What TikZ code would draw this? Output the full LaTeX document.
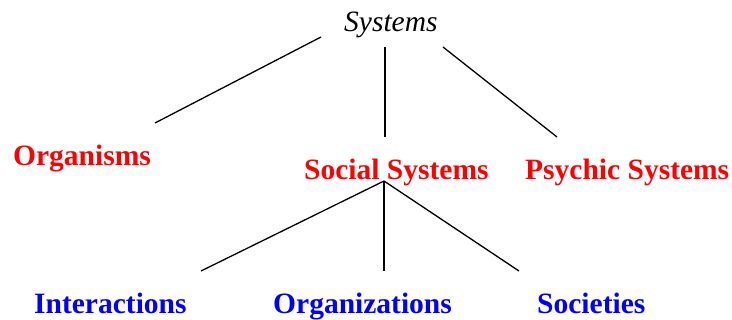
\documentclass[tikz,border=0pt]{standalone}
\usepackage{fontspec}
\setmainfont{Liberation Serif}[BoldFont={Liberation Serif Bold},ItalicFont={Liberation Serif Italic}]
\newfontfamily\tms{Liberation Serif}
\begin{document}
\begin{tikzpicture}[x=1pt,y=-1pt,
  lbl/.style={inner sep=0pt,anchor=base west,font=\tms\fontsize{29.5}{30}\selectfont\bfseries},
  top/.style={inner sep=0pt,anchor=base west,font=\tms\fontsize{29.5}{30}\selectfont\itshape},
  redlbl/.style={lbl,text=red},
  bluelbl/.style={lbl,text=blue},
  conn/.style={draw=black,line width=1.3pt}]
\useasboundingbox (0,0) rectangle (732,320);
\node[top] (sys) at (344,32) {Systems};
\node[redlbl] (org) at (13,166) {Organisms};
\node[redlbl] (soc) at (304,180) {Social Systems};
\node[redlbl] (psy) at (525,180) {Psychic Systems};
\node[bluelbl] (int) at (34,314) {Interactions};
\node[bluelbl] (orgz) at (273,314) {Organizations};
\node[bluelbl] (socs) at (537,314) {Societies};
% connector end points
\coordinate (s1) at (321,37);
\coordinate (o1) at (155,123);
\coordinate (s2) at (385,47);
\coordinate (c2) at (385,137);
\coordinate (s3) at (443,47);
\coordinate (p3) at (557,137);
\coordinate (apex) at (384,181);
\coordinate (i1) at (201,271);
\coordinate (g1) at (384,271);
\coordinate (q1) at (519,271);
\draw[conn] (s1) -- (o1);
\draw[conn] (s2) -- (c2);
\draw[conn] (s3) -- (p3);
\draw[conn] (apex) -- (i1);
\draw[conn] (apex) -- (g1);
\draw[conn] (apex) -- (q1);
\end{tikzpicture}
\end{document}
